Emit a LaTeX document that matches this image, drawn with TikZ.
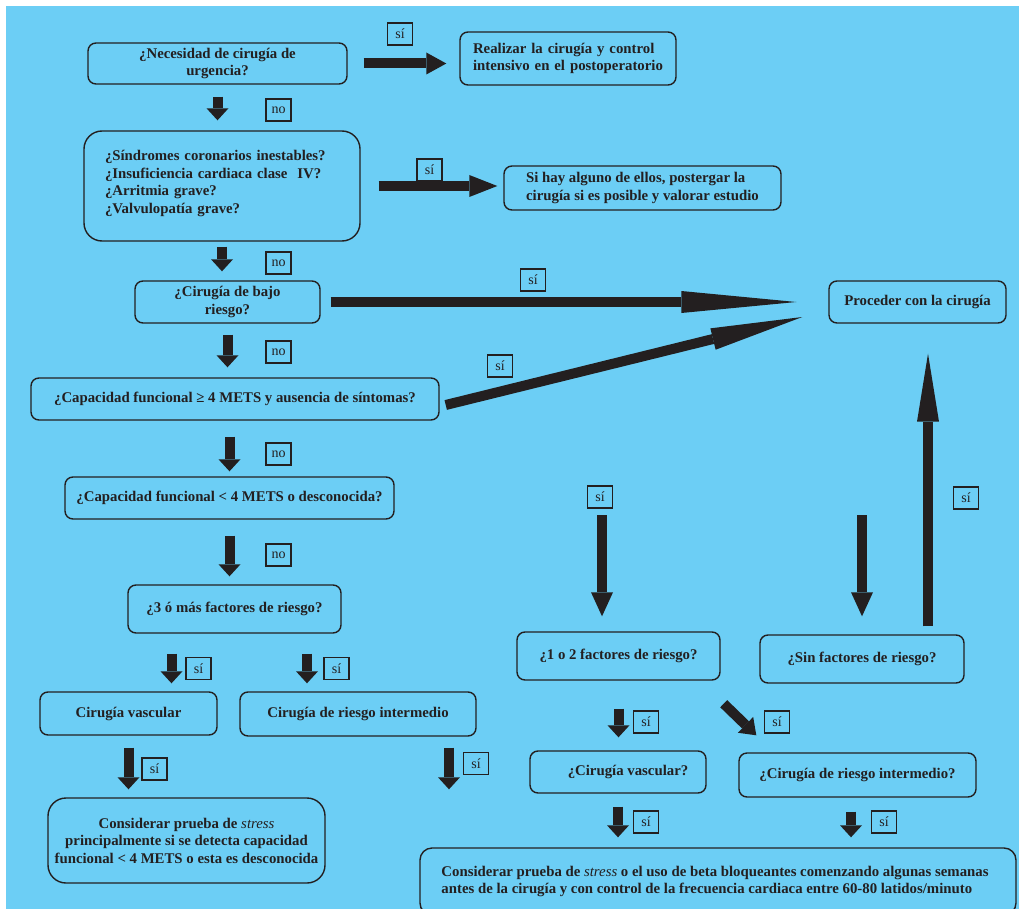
\documentclass[tikz,border=0pt]{standalone}
\usepackage{fontspec}
\setmainfont{Liberation Serif}
\usetikzlibrary{arrows.meta,calc}
\definecolor{bg}{RGB}{108,206,245}
\definecolor{ink}{RGB}{35,31,32}
\tikzset{
  box/.style={draw=ink, line width=1.4pt, rounded corners=8pt, align=center, inner sep=0pt,
    text=ink, font=\fontsize{14.8}{17.5}\selectfont\bfseries},
  lab/.style={draw=ink, line width=1.3pt, minimum width=25pt, minimum height=22pt, inner sep=0pt,
    text=ink, font=\fontsize{14}{14}\selectfont},
  blk/.style={draw=ink, line width=10pt, -{Triangle[length=#1,width=22pt,line width=0pt]}},
  blk/.default=12pt
}
\begin{document}
\begin{tikzpicture}[x=1pt,y=-1pt]
\clip (0,0) rectangle (1019,909);
\fill[bg] (6,6) rectangle (1019,909);

% boxes
\node[box, minimum width=259pt, minimum height=41pt] (n1) at (217.5,63.5) {¿Necesidad de cirugía de\\urgencia?};
\node[box, align=left, text width=190pt, minimum width=216pt, minimum height=53pt] (n2) at (568,58.5) {Realizar la cirugía y control\\intensivo en el postoperatorio};
\node[box, align=left, text width=234pt, rounded corners=18pt, minimum width=276pt, minimum height=110pt] (n3) at (222,186) {¿Síndromes coronarios inestables?\\¿Insuficiencia cardiaca clase\ \ IV?\\¿Arritmia grave?\\¿Valvulopatía grave?\\[-9pt]\mbox{}};
\node[box, align=left, minimum width=277pt, minimum height=44pt] (n4) at (642.5,188) {Si hay alguno de ellos, postergar la\\cirugía si es posible y valorar estudio};
\node[box, minimum width=185pt, minimum height=42pt] (n5) at (227.5,302) {¿Cirugía de bajo\\riesgo?};
\node[box, minimum width=177pt, minimum height=42pt] (n6) at (917.5,302) {Proceder con la cirugía};
\node[box, minimum width=408pt, minimum height=42pt] (n7) at (235,399) {¿Capacidad funcional ≥ 4 METS y ausencia de síntomas?};
\node[box, minimum width=329pt, minimum height=42pt] (n8) at (229.5,498) {¿Capacidad funcional < 4 METS o desconocida?};
\node[box, minimum width=213pt, minimum height=48pt] (n9) at (234.5,609) {¿3 ó más factores de riesgo?};
\node[box, minimum width=177pt, minimum height=43pt] (n10) at (128.5,713.5) {Cirugía vascular};
\node[box, minimum width=236pt, minimum height=44pt] (n11) at (358,714) {Cirugía de riesgo intermedio};
\node[box, rounded corners=18pt, minimum width=277pt, minimum height=85pt] (n12) at (186.5,840.5) {Considerar prueba de {\mdseries\itshape stress}\\principalmente si se detecta capacidad\\funcional < 4 METS o esta es desconocida};
\node[box, minimum width=203pt, minimum height=48pt] (n13) at (618.5,656) {¿1 o 2 factores de riesgo?};
\node[box, minimum width=204pt, minimum height=48pt] (n14) at (862,659) {¿Sin factores de riesgo?};
\node[box, minimum width=176pt, minimum height=42pt] (n15) at (618,772) {\hspace*{20pt}¿Cirugía vascular?};
\node[box, minimum width=237pt, minimum height=44pt] (n16) at (857.5,775) {¿Cirugía de riesgo intermedio?};
\node[box, align=left, rounded corners=12pt, minimum width=596pt, minimum height=67pt] (n17) at (718,881.5) {Considerar prueba de {\mdseries\itshape stress} o el uso de beta bloqueantes comenzando algunas semanas\hspace*{6pt}\\antes de la cirugía y con control de la frecuencia cardiaca entre 60-80 latidos/minuto};

% helper coordinates
\coordinate (c10) at ($(n10.north)+(43,0)$);
\coordinate (c11) at ($(n11.north)+(-51,0)$);
\coordinate (c13) at ($(n11.south)+(91,0)$);
\coordinate (c16) at ($(n6.south)+(10.5,0)$);
\coordinate (c20) at ($(n16.south)+(-6.5,0)$);
\coordinate (s14) at (602,515);
\coordinate (s15) at (862,515);

% arrows
\draw[blk=20pt, shorten <=16pt, shorten >=13pt] (n1.east) -- (n1.east -| n2.west);
\draw[blk, shorten <=12pt, shorten >=10pt] (n1.south) -- (n1.south |- n3.north);
\draw[blk=28pt, shorten <=18pt, shorten >=6pt] (n3.east) -- (n3.east -| n4.west);
\draw[blk, shorten <=5pt, shorten >=9pt] (n3.south) -- (n3.south |- n5.north);
\draw[blk=115pt, shorten <=10pt, shorten >=32pt] (n5.east) -- (n5.east -| n6.west);
\draw[blk, shorten <=11pt, shorten >=10pt] (n5.south) -- (n5.south |- n7.north);
\draw[blk=92pt] ([shift={(6,6)}]n7.east) -- ([shift={(-26,15)}]n6.west);
\draw[blk, shorten <=16pt, shorten >=5pt] (n7.south -| n8.north) -- (n8.north);
\draw[blk, shorten <=16pt, shorten >=8pt] (n8.south) -- (n8.south |- n9.north);
\draw[blk, shorten <=20pt, shorten >=8pt] (c10 |- n9.south) -- (c10);
\draw[blk, shorten <=20pt, shorten >=8pt] (c11 |- n9.south) -- (c11);
\draw[blk, shorten <=12pt, shorten >=8pt] (n10.south) -- (n10.south |- n12.north);
\draw[blk, shorten <=11pt, shorten >=58pt] (c13) -- (c13 |- n17.north);
\draw[blk=24pt, shorten >=15pt] (s14) -- (s14 |- n13.north);
\draw[blk=24pt, shorten >=18pt] (s15) -- (n14.north);
\draw[blk=68pt, shorten <=8pt, shorten >=30pt] (c16 |- n14.north) -- (c16);
\draw[blk, shorten <=28pt, shorten >=13pt] (n13.south) -- (n13.south |- n15.north);
\draw[blk=15pt] ([shift={(3,23)}]n13.south east) -- ([shift={(18,-17)}]n16.north west);
\draw[blk, shorten <=13pt, shorten >=10pt] (n15.south) -- (n15.south |- n17.north);
\draw[blk, shorten <=14pt, shorten >=10pt] (c20) -- (c20 |- n17.north);

% labels
\node[lab] (l1) at (400,34) {sí};
\node[lab] (l2) at (278.5,110) {no};
\node[lab] (l3) at (429.5,170) {sí};
\node[lab] (l4) at (278.5,263) {no};
\node[lab] (l5) at (533,280) {sí};
\node[lab] (l6) at (278.5,352) {no};
\node[lab] (l7) at (500,366) {sí};
\node[lab] (l8) at (278.5,454) {no};
\node[lab] (l9) at (278.5,555) {no};
\node[lab] (l10) at (198.5,668.5) {sí};
\node[lab] (l11) at (336.5,668.5) {sí};
\node[lab] (l12) at (154.5,769) {sí};
\node[lab] (l13) at (476,763.5) {sí};
\node[lab] (l14) at (600,497) {sí};
\node[lab] (l15) at (966,498) {sí};
\node[lab] (l16) at (646,722) {sí};
\node[lab] (l17) at (777,722) {sí};
\node[lab] (l18) at (646,822) {sí};
\node[lab] (l19) at (884,822) {sí};
\end{tikzpicture}
\end{document}
